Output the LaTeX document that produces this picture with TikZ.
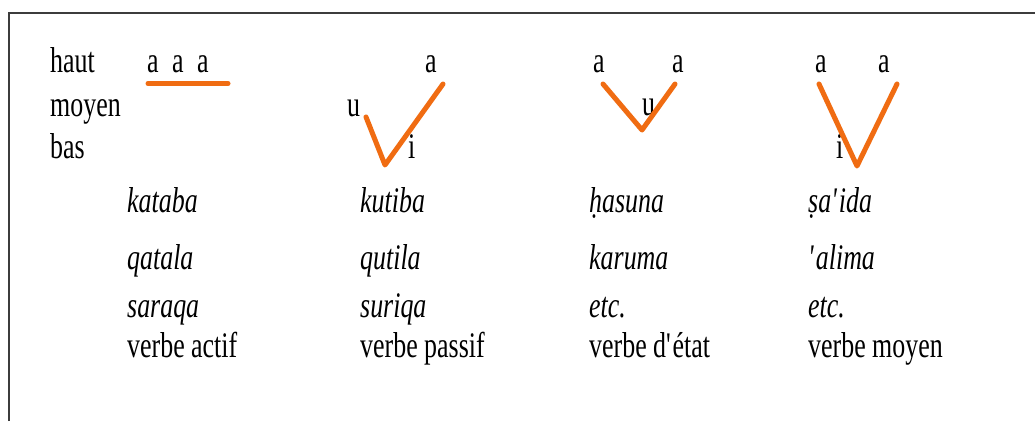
\documentclass[tikz,border=0pt]{standalone}
\usepackage{fontspec}
\setmainfont{Liberation Serif}[FakeStretch=0.72]
\definecolor{toneorange}{RGB}{240,108,18}
\definecolor{framegray}{RGB}{60,60,60}
\begin{document}
\begin{tikzpicture}[x=1pt,y=-1pt,
  txt/.style={anchor=base west, inner sep=0pt, font=\fontsize{36}{40}\selectfont},
  ex/.style={anchor=base west, inner sep=0pt, font=\fontsize{36}{40}\selectfont\itshape},
  tone/.style={draw=toneorange, line width=5pt, line cap=round, line join=round},
  frameline/.style={draw=framegray, line width=1.6pt}]
\useasboundingbox[fill=white] (0,0) rectangle (1035,421);
% frame (top and left edges)
\coordinate (fbl) at (9,421);
\coordinate (ftl) at (9,13);
\coordinate (ftr) at (1035,13);
\draw[frameline] (fbl) -- (ftl) -- (ftr);
% level labels
\node[txt] (haut) at (50,72) {haut};
\node[txt] (moyen) at (50,116) {moyen};
\node[txt] (bas) at (50,158) {bas};
% column 1
\node[txt] (aaa) at (147,72) {a\hspace{13.5pt}a\hspace{13.5pt}a};
\coordinate (l1s) at (148,83.5);
\coordinate (l1e) at (228,83.5);
\draw[tone] (l1s) -- (l1e);
% column 2
\node[txt] (a2) at (425,72) {a};
\node[txt] (u2) at (347,116) {u};
\node[txt] (i2) at (408,158) {i};
\coordinate (v2s) at (366,117);
\coordinate (v2b) at (385,165);
\coordinate (v2e) at (443,84);
\draw[tone] (v2s) -- (v2b) -- (v2e);
% column 3
\node[txt] (a3l) at (593,72) {a};
\node[txt] (a3r) at (672,72) {a};
\node[txt] (u3) at (642,115) {u};
\coordinate (v3s) at (603,84);
\coordinate (v3b) at (642,130);
\coordinate (v3e) at (675,84);
\draw[tone] (v3s) -- (v3b) -- (v3e);
% column 4
\node[txt] (a4l) at (815,72) {a};
\node[txt] (a4r) at (878,72) {a};
\node[txt] (i4) at (836,158) {i};
\coordinate (v4s) at (819,84);
\coordinate (v4b) at (857,166);
\coordinate (v4e) at (897,84);
\draw[tone] (v4s) -- (v4b) -- (v4e);
% examples
\node[ex] (w11) at (127,212) {kataba};
\node[ex] (w12) at (127,269) {qatala};
\node[ex] (w13) at (127,317) {saraqa};
\node[txt] (w14) at (127,357) {verbe actif};
\node[ex] (w21) at (360,212) {kutiba};
\node[ex] (w22) at (360,269) {qutila};
\node[ex] (w23) at (360,317) {suriqa};
\node[txt] (w24) at (360,357) {verbe passif};
\node[ex] (w31) at (589,212) {h\char"0323 asuna};
\node[ex] (w32) at (589,269) {karuma};
\node[ex] (w33) at (589,317) {etc.};
\node[txt] (w34) at (589,357) {verbe d\textquotesingle état};
\node[ex] (w41) at (808,212) {s\char"0323 a\textquotesingle ida};
\node[ex] (w42) at (808,269) {\textquotesingle alima};
\node[ex] (w43) at (808,317) {etc.};
\node[txt] (w44) at (808,357) {verbe moyen};
\end{tikzpicture}
\end{document}
